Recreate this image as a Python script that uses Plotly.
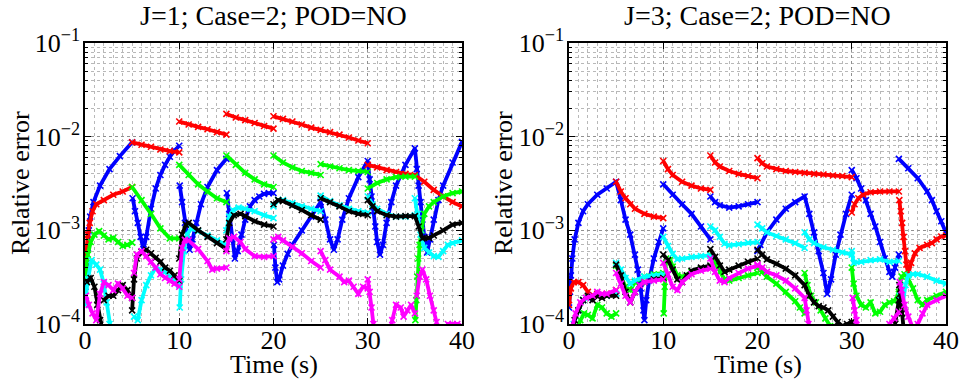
import plotly.graph_objects as go

# ---------------- data (time in s, relative error) ----------------
# None separates discontinuous pieces of a series
L_BLUE = [(0.05,2.5e-4),(0.15,4.5e-4),(0.3,6.5e-4),(0.4,1.0e-3),(0.55,1.4e-3),(0.9,2.0e-3),(1.6,3.0e-3),(2.6,4.5e-3),(3.7,6.2e-3),(5.0,8.7e-3),None,
          (5.05,2.2e-3),(5.3,1.6e-3),(5.6,1.2e-3),(5.9,8.5e-4),(6.2,6.3e-4),(6.5,8.5e-4),(7.0,1.7e-3),(7.5,2.8e-3),(8.0,3.9e-3),(8.5,5.0e-3),(9.0,6.1e-3),(9.5,7.1e-3),(10.0,8.0e-3),None,
          (10.05,3.0e-3),(10.3,2.0e-3),(10.6,1.2e-3),(10.9,7.5e-4),(11.1,6.2e-4),(11.4,8e-4),(11.8,1.2e-3),(12.3,1.9e-3),(13,2.9e-3),(14,4.4e-3),(15,5.8e-3),None,
          (15.05,2.5e-3),(15.3,1.5e-3),(15.6,8e-4),(15.9,5.0e-4),(16.2,6e-4),(16.6,9e-4),(17,1.3e-3),(17.5,1.8e-3),(18,2.1e-3),(18.5,2.3e-3),(19,2.45e-3),(19.5,2.5e-3),(20,2.5e-3),None,
          (20.05,7e-4),(20.2,4e-4),(20.4,2.8e-4),(20.6,3e-4),(21,4.2e-4),(21.5,5.6e-4),(22,7e-4),(23,1.0e-3),(24,1.4e-3),(25,2.0e-3),(25.5,1.3e-3),(26,8e-4),(26.4,6.2e-4),(26.8,8e-4),(27.3,1.3e-3),(28,2.2e-3),(29,3.7e-3),(30,5.5e-3),
          (30.2,3.5e-3),(30.4,2.3e-3),(30.6,1.6e-3),(30.8,1.1e-3),(31,7.5e-4),(31.3,5.5e-4),(31.6,7e-4),(32,1.2e-3),(32.5,2.0e-3),(33,3.0e-3),(34,5.0e-3),(35,7.5e-3),
          (35.2,4.5e-3),(35.4,3.0e-3),(35.6,2.0e-3),(35.8,1.3e-3),(36,8.5e-4),(36.3,5.8e-4),(36.6,8e-4),(37,1.3e-3),(37.5,2.1e-3),(38,3.0e-3),(39,5.3e-3),(40,8.8e-3)]
L_RED = [(0.0,4e-4),(0.1,6e-4),(0.3,9e-4),(0.5,1.2e-3),(0.8,1.6e-3),(1.2,1.9e-3),(2,2.1e-3),(3,2.4e-3),(4,2.6e-3),(5,2.9e-3),None,
         (5,8.7e-3),(6,8.2e-3),(7,7.8e-3),(8,7.3e-3),(9,7.0e-3),(10,6.8e-3),None,
         (10,1.45e-2),(11,1.35e-2),(12,1.27e-2),(13,1.2e-2),(14,1.12e-2),(15,1.05e-2),None,
         (15,1.75e-2),(16,1.6e-2),(17,1.5e-2),(18,1.4e-2),(19,1.3e-2),(20,1.22e-2),None,
         (20,1.65e-2),(21,1.55e-2),(22,1.45e-2),(23,1.35e-2),(24,1.25e-2),(25,1.18e-2),(26,1.12e-2),(27,1.05e-2),(28,9.8e-3),(29,9.1e-3),(30,8.5e-3),None,
         (30,5.0e-3),(31,4.7e-3),(32,4.4e-3),(33,4.2e-3),(34,4.0e-3),(35,3.9e-3),(36,3.3e-3),(37,2.7e-3),(38,2.3e-3),(39,2.0e-3),(40,1.8e-3)]
L_GREEN = [(0.0,3e-4),(0.3,5.5e-4),(0.6,7.5e-4),(1.0,9e-4),(1.5,9.8e-4),(2.0,8.8e-4),(2.5,8e-4),(3.0,8.3e-4),(3.5,7.5e-4),(4.0,6.8e-4),(4.5,7e-4),(5.0,7.4e-4),None,
           (5,2.9e-3),(6,2.1e-3),(7,1.5e-3),(8,1.05e-3),(9,8.2e-4),(10,8.2e-4),None,
           (10,5e-3),(11,3.9e-3),(12,3.1e-3),(13,2.6e-3),(14,2.2e-3),(15,2.0e-3),None,
           (15,6.3e-3),(16,5e-3),(17,4.1e-3),(18,3.5e-3),(19,3.1e-3),(20,2.9e-3),None,
           (20,6.3e-3),(21,5.3e-3),(22,4.7e-3),(23,4.3e-3),(24,4.1e-3),(25,3.9e-3),None,
           (25,5.1e-3),(26,4.8e-3),(27,4.6e-3),(28,4.4e-3),(29,4.3e-3),(30,4.2e-3),None,
           (30,2.8e-3),(31,3.2e-3),(32,3.5e-3),(33,3.7e-3),(34,3.75e-3),(35,3.75e-3),None,
           (35.05,1.1e-4),(35.15,1.8e-4),(35.25,3.2e-4),(35.35,5e-4),(35.5,7e-4),(35.7,1e-3),(36,1.5e-3),(36.5,1.8e-3),(37,2.0e-3),(38,2.3e-3),(39,2.5e-3),(40,2.6e-3)]
L_CYAN = [(0.0,1.6e-4),(0.3,3e-4),(0.7,4.8e-4),(1.2,4.3e-4),(1.6,3.8e-4),(2.0,2.7e-4),(2.3,1.7e-4),(2.6,1.0e-4),(2.8,8e-5),None,
          (5.2,1.2e-4),(5.6,1.1e-4),(6.0,1.8e-4),(6.5,2.6e-4),(7.0,3.3e-4),(7.5,4e-4),(8,3.8e-4),(8.5,3.6e-4),(9,3.2e-4),(9.5,2.9e-4),(10,2.6e-4),None,
          (10.05,1.5e-4),(10.2,3e-4),(10.5,6e-4),(10.8,9e-4),(11.3,1.05e-3),(12,9.8e-4),(13,8.8e-4),(14,7.8e-4),(15,7e-4),None,
          (15,1.0e-3),(15.3,1.4e-3),(15.7,1.65e-3),(16.3,1.75e-3),(17,1.7e-3),(18,1.6e-3),(19,1.45e-3),(20,1.35e-3),None,
          (20,1.8e-3),(20.5,2.1e-3),(21,2.1e-3),(22,1.95e-3),(23,1.8e-3),(24,1.7e-3),(25,1.6e-3),None,
          (25,2.35e-3),(26,2.05e-3),(27,1.85e-3),(28,1.7e-3),(29,1.6e-3),(30,1.55e-3),None,
          (30,2.3e-3),(30.5,1.9e-3),(31,1.7e-3),(32,1.5e-3),(33,1.4e-3),(34,1.4e-3),(35,1.45e-3),None,
          (35,2.2e-3),(35.3,1.5e-3),(35.6,9e-4),(36,6.5e-4),(36.5,5.8e-4),(37,5.3e-4),(37.5,5.2e-4),(38,6e-4),(38.5,7e-4),(39,7.3e-4),(40,7.8e-4)]
L_BLACK = [(0.2,2.8e-4),(0.6,3.1e-4),(1.0,2.5e-4),(1.3,1.6e-4),(1.6,1.1e-4),(1.8,9e-5),None,
           (2.0,1.8e-4),(2.5,2.0e-4),(3.0,2.0e-4),(3.5,2.3e-4),(4.0,2.6e-4),(4.5,2.3e-4),(5.0,1.9e-4),None,
           (5.0,1.4e-4),(5.2,3e-4),(5.5,5e-4),(6,5.9e-4),(6.5,6.2e-4),(7,5.7e-4),(7.5,5.1e-4),(8,4.6e-4),(8.5,4.0e-4),(9,3.7e-4),(9.5,3.3e-4),(10,2.9e-4),None,
           (10,5e-4),(10.3,9e-4),(10.7,1.15e-3),(11,1.2e-3),(12,1.0e-3),(13,8.5e-4),(14,7.3e-4),(15,6.3e-4),None,
           (15,8e-4),(15.3,1.2e-3),(15.8,1.45e-3),(16.5,1.5e-3),(17,1.42e-3),(18,1.25e-3),(19,1.15e-3),(20,1.1e-3),None,
           (20,1.9e-3),(20.5,2.1e-3),(21,2.05e-3),(22,1.85e-3),(23,1.65e-3),(24,1.45e-3),(25,1.3e-3),None,
           (25,2.2e-3),(26,2.0e-3),(27,1.8e-3),(28,1.6e-3),(29,1.5e-3),(30,1.45e-3),None,
           (30,2.1e-3),(30.5,1.8e-3),(31,1.6e-3),(32,1.45e-3),(33,1.4e-3),(34,1.42e-3),(35,1.42e-3),(35.4,1.1e-3),(35.8,8.2e-4),(36.5,8.3e-4),(37,8.8e-4),(38,1.0e-3),(39,1.15e-3),(40,1.2e-3)]
L_MAGENTA = [(0.1,2e-4),(0.4,1.6e-4),(0.8,1.3e-4),(1.2,1.1e-4),(1.6,2.1e-4),(2.0,2.8e-4),(2.5,2.6e-4),(3.0,2.3e-4),(3.5,2.7e-4),(4.0,2.4e-4),(4.5,2.0e-4),(5.0,1.9e-4),None,
             (5.2,3.5e-4),(5.5,5.5e-4),(6,6e-4),(6.5,5.3e-4),(7,4.6e-4),(7.5,4.0e-4),(8,3.4e-4),(8.5,3.1e-4),(9,2.9e-4),(9.5,2.7e-4),(10,2.5e-4),None,
             (10,3e-4),(10.3,6.5e-4),(10.6,7.9e-4),(11,7.8e-4),(12,6.3e-4),(13,4.7e-4),(13.5,3.8e-4),(14,3.9e-4),(15,4.0e-4),None,
             (15,6e-4),(15.3,8.2e-4),(15.8,8.5e-4),(16.5,7.5e-4),(17,6.3e-4),(18,5.3e-4),(19,5.2e-4),(20,5.3e-4),None,
             (20,8e-4),(20.5,8.5e-4),(21,7.8e-4),(22,6.7e-4),(23,5.7e-4),(24,4.7e-4),(25,4.0e-4),None,
             (25,6e-4),(25.5,4.8e-4),(26,3.8e-4),(27,3.2e-4),(27.5,2.8e-4),(28,2.9e-4),(28.5,2.5e-4),(29,2.1e-4),(29.5,2.5e-4),(30,2.4e-4),None,
             (30,3e-4),(30.2,2.2e-4),(30.4,1.5e-4),(30.6,1.0e-4),(30.8,7e-5),None,
             (32.3,7e-5),(32.6,1.1e-4),(33,1.6e-4),(33.5,1.5e-4),(33.8,1.2e-4),(34.2,1.4e-4),(34.6,1.6e-4),(35,1.3e-4),None,
             (35.2,2.0e-4),(35.5,3.2e-4),(35.8,3.8e-4),(36.2,3.0e-4),(36.6,2.0e-4),(37,1.4e-4),(37.3,1.05e-4),(37.6,7e-5),None,
             (38.3,9e-5),(38.5,1.0e-4),(39,1.0e-4),(39.5,1.0e-4),(40,9.5e-5)]

R_BLUE = [(0,1.5e-4),(0.1,2.2e-4),(0.2,3.3e-4),(0.35,5e-4),(0.6,8e-4),(1.0,1.2e-3),(1.5,1.6e-3),(2,1.9e-3),(3,2.4e-3),(4,2.8e-3),(5,3.3e-3),
          (5.5,2.1e-3),(6,1.3e-3),(6.5,9e-4),(7,5.5e-4),(7.3,3.8e-4),(7.6,2.4e-4),(7.9,1.4e-4),(8.0,1.1e-4),(8.2,1.8e-4),(8.5,2.9e-4),(9,5e-4),(9.5,7.5e-4),(10,1.05e-3),None,
          (10,3.1e-3),(11,2.4e-3),(12,1.9e-3),(13,1.5e-3),(14,1.1e-3),(15,8e-4),None,
          (15,2.3e-3),(15.5,2.0e-3),(16,1.85e-3),(17,1.75e-3),(18,1.8e-3),(19,1.9e-3),(20,2.0e-3),None,
          (20,6e-4),(20.3,7e-4),(21,9.5e-4),(22,1.3e-3),(23,1.7e-3),(24,2.0e-3),(25,2.3e-3),
          (25.5,1.5e-3),(26,9.5e-4),(26.5,6e-4),(27,3.5e-4),(27.4,2.1e-4),(27.8,3e-4),(28.3,5.5e-4),(28.8,9e-4),(29.4,1.5e-3),(30,2.4e-3),None,
          (30,4.4e-3),(30.5,3.6e-3),(31,2.8e-3),(31.5,2.1e-3),(32,1.5e-3),(32.5,1.1e-3),(33,7.5e-4),(33.5,5e-4),(34,3.6e-4),(34.3,3.2e-4),(34.6,4e-4),(35,5.5e-4),None,
          (35,5.8e-3),(36,4.6e-3),(37,3.6e-3),(38,2.6e-3),(38.5,2.1e-3),(39,1.6e-3),(39.5,1.25e-3),(40,9.5e-4)]
R_RED = [(0,1.6e-4),(0.2,2.4e-4),(0.5,2.8e-4),(1,2.8e-4),(1.5,2.6e-4),(2,2.2e-4),(2.5,2.0e-4),(3,2.1e-4),(3.5,2.0e-4),(4,2.1e-4),(4.5,2.1e-4),(5,2.3e-4),None,
         (5,3.3e-3),(5.5,2.6e-3),(6,2.2e-3),(6.5,1.9e-3),(7,1.7e-3),(8,1.5e-3),(9,1.4e-3),(10,1.35e-3),None,
         (10,5.5e-3),(10.5,4.5e-3),(11,3.9e-3),(12,3.3e-3),(13,3.0e-3),(14,2.8e-3),(15,2.7e-3),None,
         (15,6.3e-3),(15.5,5.3e-3),(16,4.8e-3),(17,4.3e-3),(18,4.0e-3),(19,3.8e-3),(20,3.6e-3),None,
         (20,5.9e-3),(20.5,5.2e-3),(21,4.8e-3),(22,4.5e-3),(23,4.3e-3),(24,4.2e-3),(25,4.1e-3),(26,4.0e-3),(27,3.95e-3),(28,3.85e-3),(29,3.8e-3),(30,3.7e-3),None,
         (30,1.55e-3),(30.3,1.9e-3),(30.7,2.2e-3),(31.2,2.4e-3),(32,2.55e-3),(33,2.6e-3),(34,2.6e-3),(35,2.6e-3),None,
         (35.05,2.1e-3),(35.2,1.6e-3),(35.35,1.2e-3),(35.5,8.5e-4),(35.65,6e-4),(35.8,4.3e-4),(36,3.4e-4),(36.3,4.5e-4),(36.7,5.7e-4),(37.2,6.5e-4),(38,7e-4),(38.5,7.3e-4),(39,8e-4),(39.5,8.6e-4),(40,8.8e-4)]
R_GREEN = [(0.8,9e-5),(1.2,1.1e-4),(1.6,1.3e-4),(2,1.25e-4),(2.5,1.15e-4),(3,1.6e-4),(3.5,1.5e-4),(4,1.3e-4),(4.5,1.2e-4),(5,1.3e-4),None,
           (5,4.2e-4),(5.5,3.3e-4),(6,2.5e-4),(6.5,2.3e-4),(7,2.8e-4),(8,3.2e-4),(9,3.4e-4),(10,3.5e-4),None,
           (10.05,1.3e-4),(10.15,2.5e-4),(10.3,5e-4),(10.7,4.8e-4),(11,4.1e-4),(11.5,3.3e-4),(12,3.2e-4),(13,3.6e-4),(14,3.9e-4),(15,4.0e-4),None,
           (15,5.5e-4),(15.5,4.5e-4),(16,3.6e-4),(16.5,3.0e-4),(17,2.9e-4),(18,3.1e-4),(19,3.3e-4),(20,3.5e-4),None,
           (20,4.0e-4),(20.5,3.6e-4),(21,3.2e-4),(22,2.7e-4),(23,2.2e-4),(24,1.75e-4),(24.5,1.5e-4),(25,1.3e-4),None,
           (25,3.5e-4),(25.3,2.6e-4),(25.7,2e-4),(26.2,1.7e-4),(26.7,1.4e-4),(27.2,1.15e-4),(27.7,9.5e-5),(28.2,8e-5),None,
           (30,4e-4),(30.2,2.7e-4),(30.5,2e-4),(31,1.6e-4),(31.5,1.5e-4),(32,1.7e-4),(32.5,1.3e-4),(33,1.35e-4),(33.5,1.6e-4),(34,1.7e-4),(34.5,1.75e-4),(35,2.1e-4),None,
           (35,2.2e-4),(35.3,3.2e-4),(35.6,3.4e-4),(36,3.0e-4),(36.5,2.4e-4),(37,1.8e-4),(37.5,1.6e-4),(38,1.8e-4),(39,2.0e-4),(40,2.2e-4)]
R_CYAN = [(0.5,1e-4),(1,1.4e-4),(1.5,1.8e-4),(2,1.9e-4),(3,2.0e-4),(4,2.0e-4),(5,2.1e-4),None,
          (5,4.5e-4),(5.5,3.8e-4),(6,3.1e-4),(6.5,2.7e-4),(7,2.9e-4),(8,3.2e-4),(9,3.3e-4),(10,3.4e-4),None,
          (10,8.5e-4),(10.5,6.8e-4),(11,5.6e-4),(11.5,4.9e-4),(12,5.0e-4),(13,5.2e-4),(14,5.3e-4),(15,5.4e-4),None,
          (15,1.1e-3),(15.5,1.0e-3),(16,8.5e-4),(16.5,7.2e-4),(17,6.9e-4),(18,7.1e-4),(19,7.4e-4),(20,7.5e-4),None,
          (20,1.15e-3),(20.5,1.05e-3),(21,9.5e-4),(22,8.7e-4),(23,8e-4),(24,7.3e-4),(25,6.5e-4),None,
          (25,9.5e-4),(25.5,8e-4),(26,7.3e-4),(27,6.6e-4),(28,6.2e-4),(29,5.8e-4),(30,5.5e-4),None,
          (30,6e-4),(30.2,4.5e-4),(31,4.6e-4),(32,4.8e-4),(33,4.9e-4),(34,4.6e-4),(35,4.7e-4),None,
          (35.1,2e-4),(35.4,1.6e-4),(35.7,2.6e-4),(36,3.3e-4),(36.5,3.4e-4),(37,3.4e-4),(38,3.2e-4),(39,2.9e-4),(40,2.7e-4)]
R_BLACK = [(0.3,8e-5),(0.6,1.1e-4),(1,1.4e-4),(1.5,1.8e-4),(2,2.0e-4),(2.5,1.8e-4),(3,2.0e-4),(3.5,1.9e-4),(4,2.0e-4),(5,2.0e-4),None,
           (5,4.3e-4),(5.5,3.3e-4),(6,2.2e-4),(6.5,1.7e-4),(7,2.2e-4),(7.5,2.6e-4),(8,2.8e-4),(9,3.0e-4),(10,3.1e-4),None,
           (10,5.5e-4),(10.5,4.8e-4),(11,3.8e-4),(11.5,3.0e-4),(12,2.8e-4),(12.5,3.3e-4),(13,3.7e-4),(14,4.0e-4),(15,4.2e-4),None,
           (15,6.3e-4),(15.5,5.2e-4),(16,4.2e-4),(16.5,3.6e-4),(17,3.8e-4),(18,4.2e-4),(19,4.6e-4),(20,5.0e-4),None,
           (20,6.2e-4),(20.5,5.5e-4),(21,4.9e-4),(22,4.4e-4),(23,3.9e-4),(24,3.3e-4),(25,2.6e-4),(25.5,2.0e-4),(26,1.7e-4),(26.5,1.55e-4),(27,1.5e-4),(27.5,1.4e-4),(28,1.2e-4),(28.5,1.05e-4),(29,9.5e-5),(29.5,1.0e-4),(30,1.05e-4),(30.5,8e-5),None,
           (34.6,1.0e-4),(35,1.8e-4),None,
           (35.05,2.6e-4),(35.15,2.1e-4),(35.25,1.6e-4),(35.35,1.3e-4),(35.5,9e-5)]
R_MAGENTA = [(0.3,9e-5),(0.7,1.3e-4),(1.2,1.7e-4),(1.8,1.9e-4),(2.5,2.0e-4),(3,2.2e-4),(3.5,2.1e-4),(4,2.1e-4),(5,2.3e-4),None,
             (5,3.5e-4),(5.5,2.7e-4),(6,2.0e-4),(6.5,1.7e-4),(7,2.2e-4),(7.5,2.6e-4),(8,2.8e-4),(9,2.9e-4),(10,3.0e-4),None,
             (10,4.5e-4),(10.5,3.4e-4),(11,2.5e-4),(11.5,2.3e-4),(12,2.8e-4),(13,3.4e-4),(14,3.7e-4),(15,3.9e-4),None,
             (15,5e-4),(15.5,3.6e-4),(16,2.9e-4),(16.5,2.8e-4),(17,3.1e-4),(18,3.5e-4),(19,3.9e-4),(20,4.2e-4),None,
             (20,4.3e-4),(20.5,4.0e-4),(21,3.6e-4),(22,3.3e-4),(23,2.9e-4),(24,2.4e-4),(25,1.9e-4),(25.2,1.4e-4),(25.4,1.0e-4),(25.7,7e-5),None,
             (30.1,1.9e-4),(30.3,1.4e-4),(30.5,1.1e-4),(30.7,8e-5),None,
             (33.5,8e-5),(34,1.0e-4),(34.5,1.15e-4),(35,1.35e-4),None,
             (35.1,2.8e-4),(35.3,2.3e-4),(35.6,1.6e-4),(36,1.2e-4),(36.5,9e-5),(37,1.0e-4),(37.5,1.3e-4),(38,1.6e-4),(39,1.8e-4),(40,2.0e-4)]

TITLES = ["J=1; Case=2; POD=NO", "J=3; Case=2; POD=NO"]
X_TICKS = [0, 10, 20, 30, 40]
Y_TICKS = [1e-4, 1e-3, 1e-2, 1e-1]
Y_TICKTEXT = ["10<sup>−4</sup>", "10<sup>−3</sup>", "10<sup>−2</sup>", "10<sup>−1</sup>"]
X_LABEL = "Time (s)"
Y_LABEL = "Relative error"

COLORS = {"blue": "#0000ff", "red": "#ff0000", "green": "#00ff00",
          "cyan": "#00ffff", "black": "#000000", "magenta": "#ff00ff"}
PANELS = [
    [("blue", L_BLUE), ("red", L_RED), ("green", L_GREEN), ("cyan", L_CYAN), ("black", L_BLACK), ("magenta", L_MAGENTA)],
    [("blue", R_BLUE), ("red", R_RED), ("green", R_GREEN), ("cyan", R_CYAN), ("black", R_BLACK), ("magenta", R_MAGENTA)],
]


def split(pairs):
    t, v = [], []
    for p in pairs:
        if p is None:
            t.append(None); v.append(None)
        else:
            t.append(p[0]); v.append(p[1])
    return t, v


FONT = "Liberation Serif, Times New Roman, serif"
W, H = 959, 379
fig = go.Figure()

for i, series in enumerate(PANELS):
    xa = "x" if i == 0 else "x2"
    ya = "y" if i == 0 else "y2"
    for name, pairs in series:
        t, v = split(pairs)
        c = COLORS[name]
        fig.add_trace(go.Scatter(
            x=t, y=v, xaxis=xa, yaxis=ya, mode="lines+markers",
            line=dict(color=c, width=3.8),
            marker=dict(symbol="x-thin", size=6, line=dict(color=c, width=1.6)),
            connectgaps=False, showlegend=False, hoverinfo="skip"))

x_doms = [[85 / W, 462 / W], [569 / W, 946 / W]]
y_dom = [(H - 324) / H, (H - 43) / H]

grid_major = "#909090"
grid_minor = "#b8b8b8"
for i in range(2):
    sx = "" if i == 0 else "2"
    fig.layout["xaxis" + sx] = dict(
        domain=x_doms[i], range=[0, 40], tickvals=X_TICKS, anchor="y" + sx, automargin=False,
        ticks="inside", ticklen=6, tickwidth=1, tickcolor="black", ticklabelstandoff=-8,
        showline=True, linecolor="black", linewidth=1.5, mirror="ticks",
        showgrid=True, gridcolor=grid_major, griddash="dot", gridwidth=1,
        minor=dict(dtick=1, showgrid=True, gridcolor=grid_minor, griddash="dot", gridwidth=1, ticks=""),
        zeroline=False, tickfont=dict(family=FONT, size=26, color="black"))
    fig.layout["yaxis" + sx] = dict(
        domain=y_dom, type="log", range=[-4, -1], anchor="x" + sx, automargin=False,
        tickvals=Y_TICKS, ticktext=Y_TICKTEXT, ticklabelstandoff=-2,
        ticks="inside", ticklen=6, tickwidth=1, tickcolor="black",
        showline=True, linecolor="black", linewidth=1.5, mirror="ticks",
        showgrid=True, gridcolor=grid_major, griddash="dot", gridwidth=1,
        minor=dict(dtick="D1", showgrid=True, gridcolor=grid_minor, griddash="dot", gridwidth=1,
                   ticks="inside", ticklen=3, tickcolor="black"),
        zeroline=False, tickfont=dict(family=FONT, size=26, color="black"))

annotations = []
centers = [(x_doms[0][0] + x_doms[0][1]) / 2, (x_doms[1][0] + x_doms[1][1]) / 2]
for i in range(2):
    annotations.append(dict(text=TITLES[i], x=centers[i], y=1 - 15 / H, xref="paper", yref="paper",
                            xanchor="center", yanchor="middle", showarrow=False,
                            font=dict(family=FONT, size=28, color="black")))
    annotations.append(dict(text=X_LABEL, x=centers[i], y=1 - 364 / H, xref="paper", yref="paper",
                            xanchor="center", yanchor="middle", showarrow=False,
                            font=dict(family=FONT, size=26, color="black")))
ylab_x = [20 / W, 503 / W]
for i in range(2):
    annotations.append(dict(text=Y_LABEL, x=ylab_x[i], y=1 - 183 / H, xref="paper", yref="paper",
                            xanchor="center", yanchor="middle", textangle=-90, showarrow=False,
                            font=dict(family=FONT, size=26, color="black")))

fig.update_layout(width=W, height=H, autosize=False, margin=dict(l=0, r=0, t=0, b=0),
                  paper_bgcolor="white", plot_bgcolor="white", annotations=annotations)

fig.write_html("out.html", config={"displayModeBar": False},
               post_script="document.body.style.margin='0';document.body.style.overflow='hidden';")
